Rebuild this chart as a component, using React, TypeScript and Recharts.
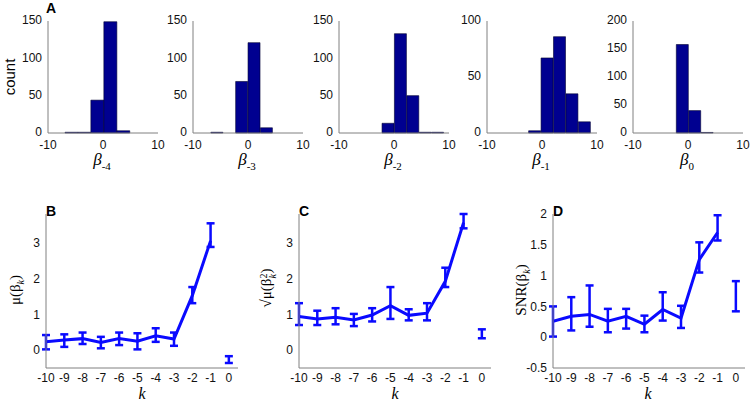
import { Bar, BarChart, ErrorBar, Line, LineChart, XAxis, YAxis } from "recharts";

// histogram bins (centres) and counts, one pair per lag
const BINS_M4 = [-5.73, -3.38, -1.03, 1.33, 3.68];
const COUNTS_M4 = [1, 1, 44, 149, 3];
const BINS_M3 = [-5.62, -3.37, -1.12, 1.13, 3.38];
const COUNTS_M3 = [1, 0, 69, 121, 7];
const BINS_M2 = [-1.05, 1.2, 3.45, 5.7, 7.95];
const COUNTS_M2 = [13, 133, 50, 1, 1];
const BINS_M1 = [-1.3, 0.96, 3.22, 5.48, 7.74];
const COUNTS_M1 = [2, 67, 86, 35, 10];
const BINS_0 = [-1.0, 1.25, 3.5];
const COUNTS_0 = [158, 40, 1];

// lags k
const K = [-10, -9, -8, -7, -6, -5, -4, -3, -2, -1];
const K_TICKS = [-10, -9, -8, -7, -6, -5, -4, -3, -2, -1, 0];

// B: mean of beta_k
const MU = [0.23, 0.28, 0.32, 0.21, 0.32, 0.25, 0.4, 0.31, 1.52, 3.05];
const MU_LO = [0.02, 0.09, 0.17, 0.05, 0.14, 0.02, 0.23, 0.12, 1.31, 2.88];
const MU_HI = [0.42, 0.44, 0.49, 0.37, 0.49, 0.47, 0.61, 0.49, 1.76, 3.54];
const MU_K0 = [-0.26, -0.36, -0.17]; // value, low, high

// C: root mean square of beta_k
const RMS = [0.94, 0.87, 0.92, 0.84, 0.98, 1.24, 0.97, 1.03, 1.92, 3.56];
const RMS_LO = [0.7, 0.7, 0.72, 0.67, 0.8, 0.87, 0.83, 0.83, 1.76, 3.4];
const RMS_HI = [1.31, 1.1, 1.17, 1.01, 1.17, 1.76, 1.14, 1.31, 2.3, 3.8];
const RMS_K0 = [0.47, 0.33, 0.58];

// D: SNR of beta_k
const SNR = [0.26, 0.34, 0.37, 0.26, 0.34, 0.21, 0.45, 0.31, 1.26, 1.7];
const SNR_LO = [0.01, 0.11, 0.17, 0.08, 0.14, 0.08, 0.27, 0.15, 1.05, 1.57];
const SNR_HI = [0.5, 0.65, 0.84, 0.46, 0.46, 0.35, 0.73, 0.51, 1.54, 1.98];
const SNR_K0 = [0.66, 0.42, 0.91];

const AXIS = "#808080";
const BLUE = "#0a0aff";
const TICK = { fontFamily: "Liberation Sans, Arial, sans-serif", fontSize: 12, fill: "#111" };
const SERIF = "Liberation Serif, Times New Roman, serif";

type HistProps = {
  left: number;
  bins: number[];
  counts: number[];
  yMax: number;
  yTicks: number[];
  sub: string;
};

function HistPanel({ left, bins, counts, yMax, yTicks, sub }: HistProps) {
  const data = bins.map((c, i) => ({ c, n: counts[i] }));
  return (
    <>
      <div style={{ position: "absolute", left: left - 40, top: 0 }}>
        <BarChart
          width={158}
          height={175}
          data={data}
          margin={{ top: 21, right: 8, bottom: 22, left: 0 }}
          barCategoryGap={0}
          barGap={0}
        >
          <XAxis
            type="number"
            dataKey="c"
            domain={[-10, 10]}
            ticks={[-10, 0, 10]}
            interval={0}
            height={20}
            tick={TICK}
            tickLine={false}
            tickSize={3}
            tickMargin={4}
            stroke={AXIS}
          />
          <YAxis
            type="number"
            domain={[0, yMax]}
            ticks={yTicks}
            interval={0}
            width={40}
            tick={{ ...TICK, dy: -1 }}
            tickLine={false}
            tickSize={3}
            tickMargin={3}
            stroke={AXIS}
          />
          <Bar dataKey="n" fill="#000090" stroke="#000030" strokeWidth={0.6} isAnimationActive={false} />
        </BarChart>
      </div>
      <div
        style={{
          position: "absolute",
          left,
          top: 151,
          width: 108,
          textAlign: "center",
          fontFamily: SERIF,
          lineHeight: 1,
        }}
      >
        <span style={{ fontStyle: "italic", fontSize: 17 }}>β</span>
        <span style={{ fontSize: 11, position: "relative", top: 5 }}>{sub}</span>
      </div>
    </>
  );
}

type LineProps = {
  left: number;
  vals: number[];
  lo: number[];
  hi: number[];
  k0: number[];
  yDomain: [number, number];
  yTicks: number[];
};

function LinePanel({ left, vals, lo, hi, k0, yDomain, yTicks }: LineProps) {
  // the k = 0 point stands alone, so a null entry breaks the line before it
  const data: { k: number; m: number | null; e: number[] | null }[] = K.map((k, i) => ({
    k,
    m: vals[i],
    e: [vals[i] - lo[i], hi[i] - vals[i]],
  }));
  data.push({ k: -0.5, m: null, e: null });
  data.push({ k: 0, m: k0[0], e: [k0[0] - k0[1], k0[2] - k0[0]] });
  return (
    <div style={{ position: "absolute", left: left - 40, top: 200 }}>
      <LineChart width={236} height={203} data={data} margin={{ top: 14, right: 4, bottom: 15, left: 0 }}>
        <XAxis
          type="number"
          dataKey="k"
          domain={[-10, 0.5]}
          ticks={K_TICKS}
          interval={0}
          height={20}
          tick={TICK}
          tickLine={false}
          tickSize={3}
          tickMargin={2}
          stroke={AXIS}
          allowDataOverflow
        />
        <YAxis
          type="number"
          domain={yDomain}
          ticks={yTicks}
          interval={0}
          width={40}
          tick={TICK}
          tickLine={false}
          tickSize={3}
          tickMargin={3}
          stroke={AXIS}
          allowDataOverflow
        />
        <Line dataKey="m" stroke={BLUE} strokeWidth={3} dot={false} connectNulls={false} isAnimationActive={false}>
          <ErrorBar dataKey="e" direction="y" width={4} stroke={BLUE} strokeWidth={2.5} isAnimationActive={false} />
        </Line>
      </LineChart>
    </div>
  );
}

function Letter({ x, y, t }: { x: number; y: number; t: string }) {
  return (
    <div
      style={{
        position: "absolute",
        left: x,
        top: y,
        fontFamily: "Liberation Sans, Arial, sans-serif",
        fontWeight: "bold",
        fontSize: 14,
        lineHeight: 1,
      }}
    >
      {t}
    </div>
  );
}

function VLabel({ cx, cy, children, family }: { cx: number; cy: number; children: React.ReactNode; family: string }) {
  return (
    <div
      style={{
        position: "absolute",
        left: cx,
        top: cy,
        transform: "translate(-50%, -50%) rotate(-90deg)",
        whiteSpace: "nowrap",
        fontFamily: family,
        fontSize: 15,
        lineHeight: 1,
      }}
    >
      {children}
    </div>
  );
}

const subK = <span style={{ fontStyle: "italic", fontSize: 10, position: "relative", top: 4 }}>k</span>;

export default function App() {
  return (
    <div style={{ position: "absolute", left: 0, top: 0, width: 750, height: 403, background: "#fff", overflow: "hidden" }}>
      <Letter x={46} y={1} t="A" />
      <VLabel cx={9} cy={77} family="Liberation Sans, Arial, sans-serif">
        count
      </VLabel>
      <HistPanel left={48} bins={BINS_M4} counts={COUNTS_M4} yMax={150} yTicks={[0, 50, 100, 150]} sub="-4" />
      <HistPanel left={193} bins={BINS_M3} counts={COUNTS_M3} yMax={150} yTicks={[0, 50, 100, 150]} sub="-3" />
      <HistPanel left={339} bins={BINS_M2} counts={COUNTS_M2} yMax={150} yTicks={[0, 50, 100, 150]} sub="-2" />
      <HistPanel left={487} bins={BINS_M1} counts={COUNTS_M1} yMax={100} yTicks={[0, 50, 100]} sub="-1" />
      <HistPanel left={633} bins={BINS_0} counts={COUNTS_0} yMax={200} yTicks={[0, 50, 100, 150, 200]} sub="0" />

      <Letter x={46} y={204} t="B" />
      <Letter x={299} y={204} t="C" />
      <Letter x={553} y={204} t="D" />

      <LinePanel left={46} vals={MU} lo={MU_LO} hi={MU_HI} k0={MU_K0} yDomain={[-0.5, 3.8]} yTicks={[0, 1, 2, 3]} />
      <LinePanel left={299} vals={RMS} lo={RMS_LO} hi={RMS_HI} k0={RMS_K0} yDomain={[-0.5, 3.8]} yTicks={[0, 1, 2, 3]} />
      <LinePanel
        left={553}
        vals={SNR}
        lo={SNR_LO}
        hi={SNR_HI}
        k0={SNR_K0}
        yDomain={[-0.5, 2]}
        yTicks={[-0.5, 0, 0.5, 1, 1.5, 2]}
      />

      <VLabel cx={15} cy={290} family={SERIF}>
        μ(β{subK})
      </VLabel>
      <VLabel cx={268} cy={288} family={SERIF}>
        √μ(β
        <span
          style={{
            display: "inline-flex",
            flexDirection: "column",
            fontSize: 10,
            lineHeight: "9px",
            verticalAlign: "middle",
          }}
        >
          <span>2</span>
          <span style={{ fontStyle: "italic" }}>k</span>
        </span>
        )
      </VLabel>
      <VLabel cx={521} cy={290} family={SERIF}>
        SNR(β{subK})
      </VLabel>

      {[142, 395, 648].map((x) => (
        <div
          key={x}
          style={{
            position: "absolute",
            left: x - 10,
            top: 386,
            width: 20,
            textAlign: "center",
            fontFamily: SERIF,
            fontStyle: "italic",
            fontSize: 16,
            lineHeight: 1,
          }}
        >
          k
        </div>
      ))}
    </div>
  );
}
